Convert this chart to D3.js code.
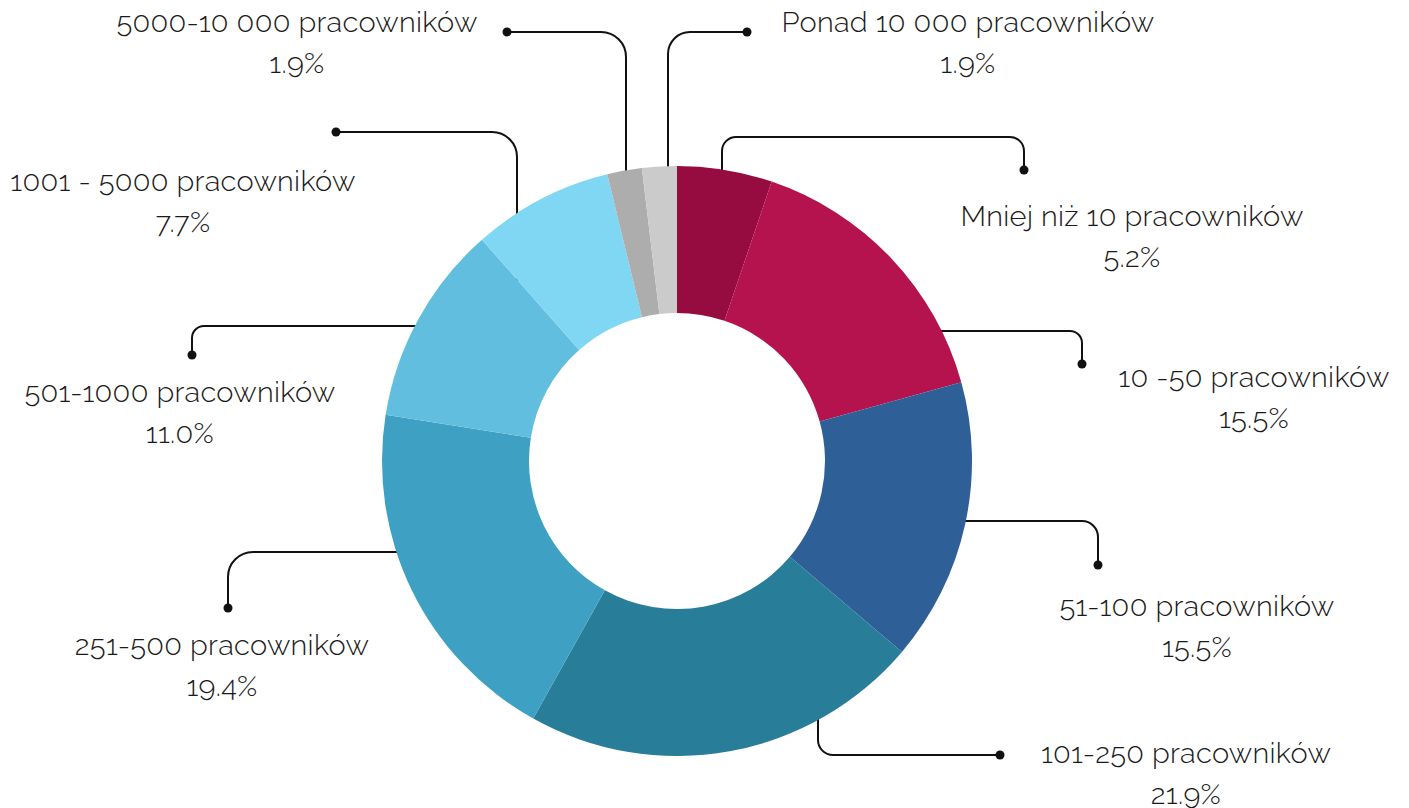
<!DOCTYPE html>
<html>
<head>
<meta charset="utf-8">
<script src="https://cdn.jsdelivr.net/npm/d3@7"></script>
<style>
  body { margin: 0; background: #fff; }
  text { font-family: Raleway, Lato, "Open Sans", sans-serif; font-weight: 300; fill: #1a1a1a; letter-spacing: 0.3px; }
</style>
</head>
<body>
<div id="chart-area"></div>
<script>
// Dane
var categories = ["Mniej niż 10 pracowników", "10 -50 pracowników", "51-100 pracowników",
    "101-250 pracowników", "251-500 pracowników", "501-1000 pracowników",
    "1001 - 5000 pracowników", "5000-10 000 pracowników", "Ponad 10 000 pracowników"];
var values = [5.2, 15.5, 15.5, 21.9, 19.4, 11.0, 7.7, 1.9, 1.9];
var colors = ["#960c40", "#b5134e", "#2e5f97", "#287d99", "#3ea1c4", "#62bede", "#80d7f4", "#adadad", "#cbcbcb"];

var width = 1409, height = 808;
var cx = 677, cy = 461, outerR = 295, innerR = 148;

var svg = d3.select("#chart-area").append("svg")
    .attr("width", width)
    .attr("height", height);

// Rozmieszczenie etykiet i łączników (layout)
// dir: "v" = linia pionowa z wykresu, "h" = pozioma; turns = punkty zakrętów
var layout = [
    { lx: 1132, ly: 216, dir: "v", x: 722, turns: [[722, 137], [1024, 137]], dot: [1024, 170], rad: 14 },
    { lx: 1254, ly: 377, dir: "h", y: 331, turns: [[1082, 331]], dot: [1082, 364], rad: 12 },
    { lx: 1197, ly: 606, dir: "h", y: 521, turns: [[1098, 521]], dot: [1098, 565], rad: 16 },
    { lx: 1186, ly: 753, dir: "v", x: 818, turns: [[818, 755]], dot: [1000, 755], rad: 15 },
    { lx: 222, ly: 645, dir: "h", y: 552, turns: [[228, 552]], dot: [228, 608], rad: 25 },
    { lx: 180, ly: 392, dir: "h", y: 326, turns: [[192, 326]], dot: [192, 355], rad: 12 },
    { lx: 183, ly: 181, dir: "v", x: 517, turns: [[517, 132]], dot: [336, 132], rad: 25 },
    { lx: 297, ly: 22, dir: "v", x: 626, turns: [[626, 32]], dot: [507, 32], rad: 25 },
    { lx: 968, ly: 22, dir: "v", x: 668, turns: [[668, 32]], dot: [747, 32], rad: 22 }
];

var pie = d3.pie().sort(null).value(d => d);
var arcs = pie(values);
var arc = d3.arc().innerRadius(innerR).outerRadius(outerR);

// Ścieżka łamana z zaokrąglonymi narożnikami
function roundedPath(pts, rad) {
    var p = d3.path();
    p.moveTo(pts[0][0], pts[0][1]);
    for (var i = 1; i < pts.length - 1; i++) {
        p.arcTo(pts[i][0], pts[i][1], pts[i + 1][0], pts[i + 1][1], rad);
    }
    p.lineTo(pts[pts.length - 1][0], pts[pts.length - 1][1]);
    return p.toString();
}

var midR = (innerR + outerR) / 2;
var connectors = svg.append("g").attr("class", "connectors");
layout.forEach(function (L, i) {
    var start;
    if (L.dir === "v") {
        var dx = L.x - cx;
        var dy = Math.sqrt(Math.max(midR * midR - dx * dx, 0));
        start = [L.x, L.turns[0][1] < cy ? cy - dy : cy + dy];
    } else {
        var dy2 = L.y - cy;
        var dx2 = Math.sqrt(Math.max(midR * midR - dy2 * dy2, 0));
        start = [L.turns[0][0] > cx ? cx + dx2 : cx - dx2, L.y];
    }
    var pts = [start].concat(L.turns).concat([L.dot]);
    connectors.append("path")
        .attr("d", roundedPath(pts, L.rad))
        .attr("fill", "none")
        .attr("stroke", "#111")
        .attr("stroke-width", 2);
    connectors.append("circle")
        .attr("cx", L.dot[0])
        .attr("cy", L.dot[1])
        .attr("r", 4.5)
        .attr("fill", "#111");
});

// Wykres pierścieniowy
svg.append("g")
    .attr("transform", "translate(" + cx + "," + cy + ")")
    .selectAll("path")
    .data(arcs)
    .enter()
    .append("path")
    .attr("d", arc)
    .attr("fill", (d, i) => colors[i]);

// Etykiety
var labels = svg.append("g").attr("class", "labels");
categories.forEach(function (c, i) {
    var L = layout[i];
    labels.append("text")
        .attr("x", L.lx)
        .attr("y", L.ly)
        .attr("text-anchor", "middle")
        .attr("dominant-baseline", "central")
        .attr("font-size", "29px")
        .text(c);
    labels.append("text")
        .attr("x", L.lx)
        .attr("y", L.ly + 41)
        .attr("text-anchor", "middle")
        .attr("dominant-baseline", "central")
        .attr("font-size", "29px")
        .text(d3.format(".1f")(values[i]) + "%");
});
</script>
</body>
</html>
